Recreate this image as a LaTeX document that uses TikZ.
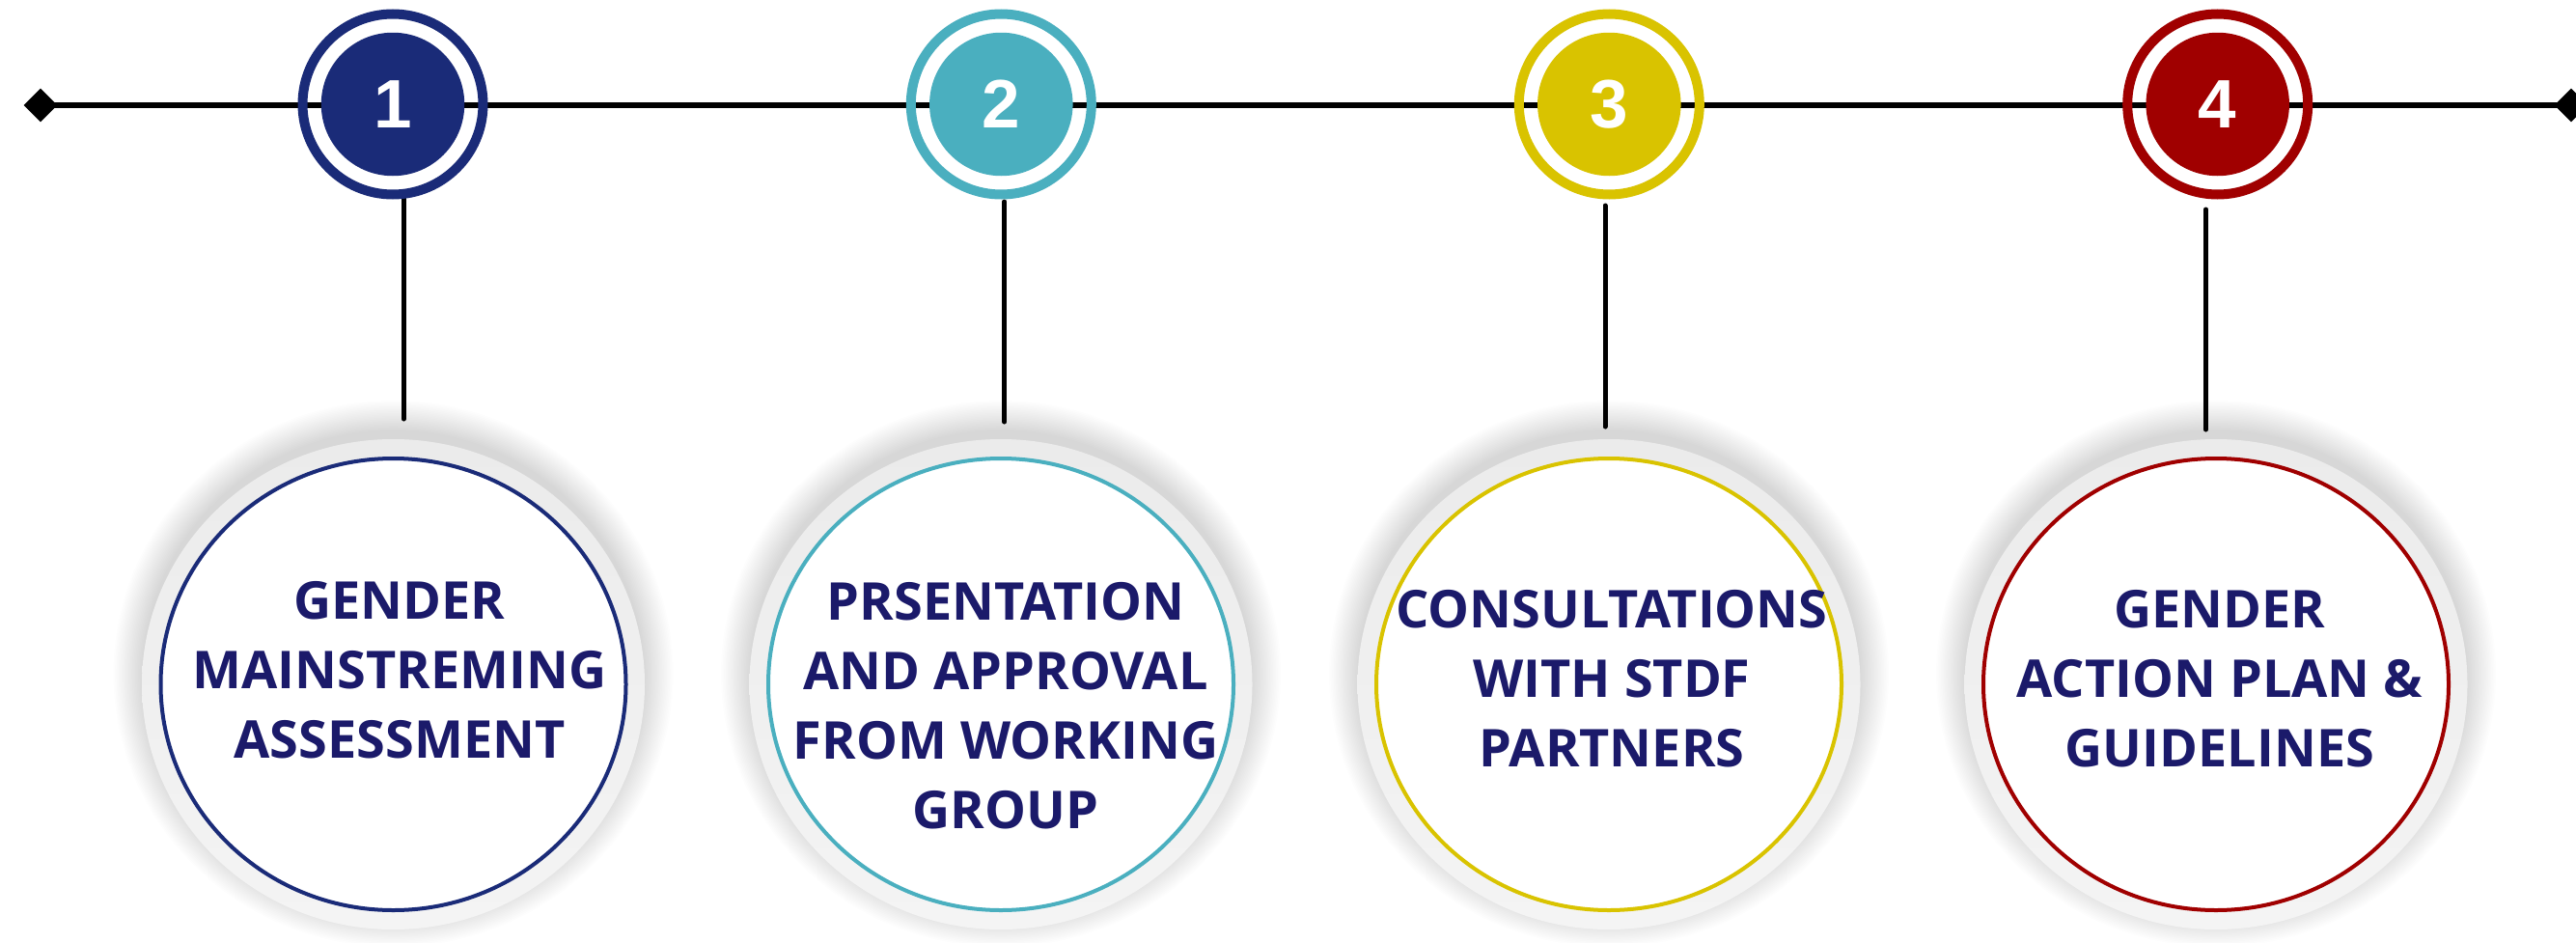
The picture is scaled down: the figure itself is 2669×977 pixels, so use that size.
\documentclass[tikz,border=0pt]{standalone}
\usepackage{fontspec}
\setmainfont{Open Sans}
\newfontfamily\numfont{Liberation Sans}
\usetikzlibrary{shapes.geometric}
\definecolor{cnavy}{RGB}{26,43,120}
\definecolor{cteal}{RGB}{74,175,191}
\definecolor{cyel}{RGB}{217,195,0}
\definecolor{cred}{RGB}{160,0,0}
\definecolor{ctext}{RGB}{27,26,106}
\definecolor{cring}{RGB}{235,235,235}
\begin{document}
\begin{tikzpicture}[x=1pt,y=-1pt,
  numring/.style={draw=#1, line width=10pt, circle, minimum size=187pt, inner sep=0pt},
  numdisc/.style={circle, fill=#1, minimum size=148.5pt, inner sep=0pt, text=white,
    font=\numfont\bfseries\fontsize{71}{71}\selectfont},
  halo/.style={ellipse, shade, top color=cring, bottom color=cring!55, minimum width=521pt, minimum height=508pt, inner sep=0pt},
  card/.style={ellipse, draw=#1, line width=4pt, fill=white, minimum width=482pt, minimum height=468pt, inner sep=0pt},
  steptext/.style={text=ctext, font=\bfseries\fontsize{54}{72}\selectfont, align=center, anchor=base, inner sep=0pt},
  conn/.style={line width=5pt, line cap=round},
  timeline/.style={line width=6pt},
  endmark/.style={diamond, fill=black, minimum size=35pt, inner sep=0pt}
]
\useasboundingbox (0,0) rectangle (2669,977);
\fill[white] (0,0) rectangle (2669,977);
% soft shadows behind the lower circles
\foreach \cx in {407.5,1037,1667,2296}{
  \foreach \i in {1,...,20}{
    \pgfmathsetmacro\rx{258+1.6*\i}
    \pgfmathsetmacro\ry{251+1.6*\i}
    \fill[black,opacity=0.0075] (\cx,698) ellipse [x radius=\rx pt, y radius=\ry pt];
  }
}
% lower circles
\node[halo] (g1) at (407.5,709) {};
\node[halo] (g2) at (1037,709) {};
\node[halo] (g3) at (1667,709) {};
\node[halo] (g4) at (2296,709) {};
\node[card=cnavy] (b1) at (407.5,709) {};
\node[card=cteal] (b2) at (1037,709) {};
\node[card=cyel] (b3) at (1667,709) {};
\node[card=cred] (b4) at (2296,709) {};
% text: base anchor sits on the last line
\node[steptext] (t1) at (414,785.7) {GENDER\\MAINSTREMING\\ASSESSMENT};
\node[steptext] (t2) at (1042,858.3) {PRSENTATION\\AND APPROVAL\\FROM WORKING\\GROUP};
\node[steptext] (t3) at (1670,794) {CONSULTATIONS\\WITH STDF\\PARTNERS};
\node[steptext] (t4) at (2300,794) {GENDER\\ACTION PLAN \&\\GUIDELINES};
% connectors
\coordinate (c1a) at (418.3,205); \coordinate (c1b) at (418.3,434);
\coordinate (c2a) at (1040.7,209); \coordinate (c2b) at (1040.7,437);
\coordinate (c3a) at (1663,213); \coordinate (c3b) at (1663,442);
\coordinate (c4a) at (2285.5,217); \coordinate (c4b) at (2285.5,445);
\draw[conn] (c1a) -- (c1b);
\draw[conn] (c2a) -- (c2b);
\draw[conn] (c3a) -- (c3b);
\draw[conn] (c4a) -- (c4b);
% timeline
\node[endmark] (dl) at (42,109) {};
\node[endmark] (dr) at (2664,109) {};
\draw[timeline] (dl.center) -- (dr.center);
% numbered markers
\node[numring=cnavy] (r1) at (407,108) {};
\node[numring=cteal] (r2) at (1037.3,108) {};
\node[numring=cyel] (r3) at (1667.3,108) {};
\node[numring=cred] (r4) at (2297.7,108) {};
\node[numdisc=cnavy] (n1) at (r1.center) {1};
\node[numdisc=cteal] (n2) at (r2.center) {2};
\node[numdisc=cyel] (n3) at (r3.center) {3};
\node[numdisc=cred] (n4) at (r4.center) {4};
\end{tikzpicture}
\end{document}
